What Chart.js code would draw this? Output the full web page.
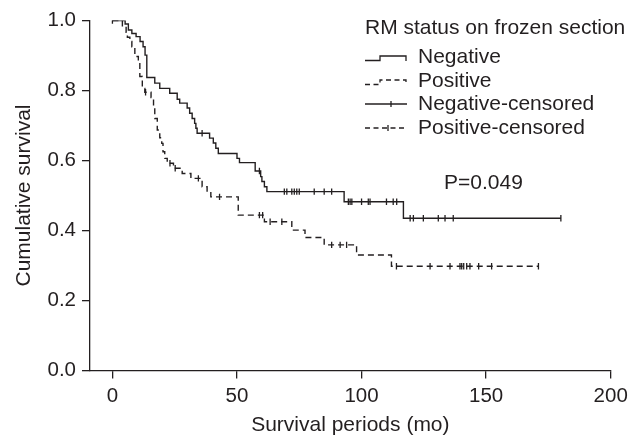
<!DOCTYPE html>
<html>
<head>
<meta charset="utf-8">
<script src="https://cdn.jsdelivr.net/npm/chart.js@4.4.1/dist/chart.umd.min.js"></script>
<style>
    html, body { margin: 0; padding: 0; background: #fff; }
    #wrap { width: 640px; height: 438px; }
</style>
</head>
<body>
<div id="wrap"><canvas id="km" width="640" height="438"></canvas></div>
<script>
// ======================
// Данные
// ======================

// RM negative: время события (мес) и выживаемость после него
const negTimes = [5.1, 6.4, 7.8, 9.5, 11.1, 12.3, 13.1, 13.8, 17, 19, 23, 26, 27, 30, 31, 32, 33, 33.5, 34, 39, 40.5, 41.5, 42.5, 50, 51, 57.3, 59.5, 60, 61, 62, 93, 116.8];
const negSurv  = [0.99, 0.973, 0.963, 0.954, 0.94, 0.925, 0.901, 0.837, 0.821, 0.806, 0.792, 0.775, 0.764, 0.75, 0.735, 0.72, 0.706, 0.692, 0.678, 0.664, 0.65, 0.635, 0.62, 0.606, 0.594, 0.57, 0.554, 0.54, 0.525, 0.511, 0.482, 0.435];
const negCensored = [36, 59, 69, 70, 72, 73, 74, 75, 81, 85, 88, 94.7, 95.4, 96.1, 100, 102.7, 103.4, 110, 112.7, 114.1, 119.5, 120.8, 124.8, 130.8, 133.5, 136.8, 180];
const negEnd = 180;

// RM positive
const posTimes = [4, 5.5, 6, 7, 7.8, 9, 10.4, 11, 12, 13, 15.5, 16.5, 17, 18, 19, 19.8, 20.3, 21, 22, 24.5, 28, 31.5, 36, 38, 39.5, 50.5, 61, 72, 77.3, 85, 98, 112];
const posSurv  = [0.98, 0.966, 0.952, 0.94, 0.925, 0.897, 0.882, 0.84, 0.806, 0.795, 0.78, 0.75, 0.72, 0.687, 0.665, 0.649, 0.625, 0.606, 0.592, 0.578, 0.563, 0.549, 0.525, 0.51, 0.496, 0.444, 0.425, 0.401, 0.38, 0.359, 0.33, 0.298];
const posCensored = [0, 13.3, 23.1, 25.2, 34.5, 43, 59, 60.3, 63.3, 68, 88, 91.4, 94, 114, 127.5, 135.5, 139.5, 140.2, 141, 142.2, 143.5, 147, 152.2, 171];
const posEnd = 171;

const xTicks = [0, 50, 100, 150, 200];
const yTicks = [0, 0.2, 0.4, 0.6, 0.8, 1.0];

const legendTitle = 'RM status on frozen section';
const legendLabels = ['Negative', 'Positive', 'Negative-censored', 'Positive-censored'];
const pValueText = 'P=0.049';
const xTitle = 'Survival periods (mo)';
const yTitle = 'Cumulative survival';

// ======================
// Вспомогательные функции
// ======================

const INK = '#231f20';
const FONT = 'Liberation Sans, Arial, sans-serif';

function stepPoints(times, surv, end) {
    const pts = [{ x: 0, y: 1 }];
    times.forEach((t, i) => pts.push({ x: t, y: surv[i] }));
    pts.push({ x: end, y: surv[surv.length - 1] });
    return pts;
}

function survAt(times, surv, t) {
    let s = 1;
    for (let i = 0; i < times.length; i++) {
        if (times[i] <= t) s = surv[i];
    }
    return s;
}

function censorPoints(times, surv, cens) {
    return cens.map(t => ({ x: t, y: survAt(times, surv, t) }));
}

// ======================
// Легенда и подписи
// ======================

const legendPlugin = {
    id: 'kmLegend',
    afterDraw(chart) {
        const ctx = chart.ctx;
        ctx.save();
        ctx.fillStyle = INK;
        ctx.strokeStyle = INK;
        ctx.lineWidth = 1.3;
        ctx.font = '21px ' + FONT;
        ctx.textBaseline = 'middle';
        ctx.textAlign = 'left';

        ctx.fillText(legendTitle, 365, 28);

        const rows = [57, 81, 104, 128];
        legendLabels.forEach((label, i) => {
            const y = rows[i];
            ctx.setLineDash(i % 2 ? [5, 3.5] : []);
            ctx.beginPath();
            if (i < 2) {
                ctx.moveTo(365, y + 3.5);
                ctx.lineTo(380, y + 3.5);
                ctx.lineTo(380, y - 1);
                ctx.lineTo(406, y - 1);
                ctx.lineTo(406, y + 4);
            } else {
                ctx.moveTo(365, y);
                ctx.lineTo(407, y);
            }
            ctx.stroke();
            if (i >= 2) {
                ctx.setLineDash([]);
                ctx.beginPath();
                const tx = i === 2 ? 391 : 388;
                ctx.moveTo(tx, y - 3);
                ctx.lineTo(tx, y + 3);
                ctx.stroke();
            }
            ctx.fillText(label, 418, y);
        });

        ctx.setLineDash([]);
        ctx.fillText(pValueText, 444, 183);
        ctx.restore();
    }
};

// ======================
// График
// ======================

const lineBase = {
    showLine: true,
    stepped: 'before',
    pointRadius: 0,
    borderColor: INK,
    borderWidth: 1.4,
    fill: false
};

const censorBase = {
    showLine: false,
    pointStyle: 'line',
    rotation: 90,
    pointRadius: 3.2,
    borderColor: INK,
    pointBorderWidth: 1.3,
    backgroundColor: INK
};

new Chart(document.getElementById('km').getContext('2d'), {
    type: 'scatter',
    data: {
        datasets: [
            Object.assign({ label: legendLabels[0], data: stepPoints(negTimes, negSurv, negEnd) }, lineBase),
            Object.assign({ label: legendLabels[1], data: stepPoints(posTimes, posSurv, posEnd), borderDash: [6, 4] }, lineBase),
            Object.assign({ label: legendLabels[2], data: censorPoints(negTimes, negSurv, negCensored) }, censorBase),
            Object.assign({ label: legendLabels[3], data: censorPoints(posTimes, posSurv, posCensored) }, censorBase)
        ]
    },
    options: {
        responsive: false,
        animation: false,
        events: [],
        layout: { padding: { left: 0, top: 20.5, right: 29.3, bottom: 0 } },
        plugins: {
            legend: { display: false },
            tooltip: { enabled: false }
        },
        scales: {
            x: {
                type: 'linear',
                min: -9,
                max: 200,
                afterBuildTicks: s => { s.ticks = xTicks.map(v => ({ value: v })); },
                afterFit: s => { s.height = 67.5; },
                ticks: {
                    color: INK,
                    padding: 6,
                    maxRotation: 0,
                    font: { family: FONT, size: 20.5 },
                    callback: v => String(v)
                },
                grid: { drawOnChartArea: false, drawTicks: true, tickLength: 8, color: INK, lineWidth: 1.3 },
                border: { display: true, color: INK, width: 1.3 },
                title: {
                    display: true,
                    text: xTitle,
                    color: INK,
                    font: { family: FONT, size: 21, lineHeight: 1.2 },
                    padding: { top: 0, bottom: 0 }
                }
            },
            y: {
                min: 0,
                max: 1,
                afterBuildTicks: s => { s.ticks = yTicks.map(v => ({ value: v })); },
                afterFit: s => { s.width = 90; },
                ticks: {
                    color: INK,
                    padding: 6,
                    font: { family: FONT, size: 20.5 },
                    callback: v => v.toFixed(1)
                },
                grid: { drawOnChartArea: false, drawTicks: true, tickLength: 8, color: INK, lineWidth: 1.3 },
                border: { display: true, color: INK, width: 1.3 },
                title: {
                    display: true,
                    text: yTitle,
                    color: INK,
                    font: { family: FONT, size: 21, lineHeight: 1.2 },
                    padding: { top: 12, bottom: 0 }
                }
            }
        }
    },
    plugins: [legendPlugin]
});
</script>
</body>
</html>
